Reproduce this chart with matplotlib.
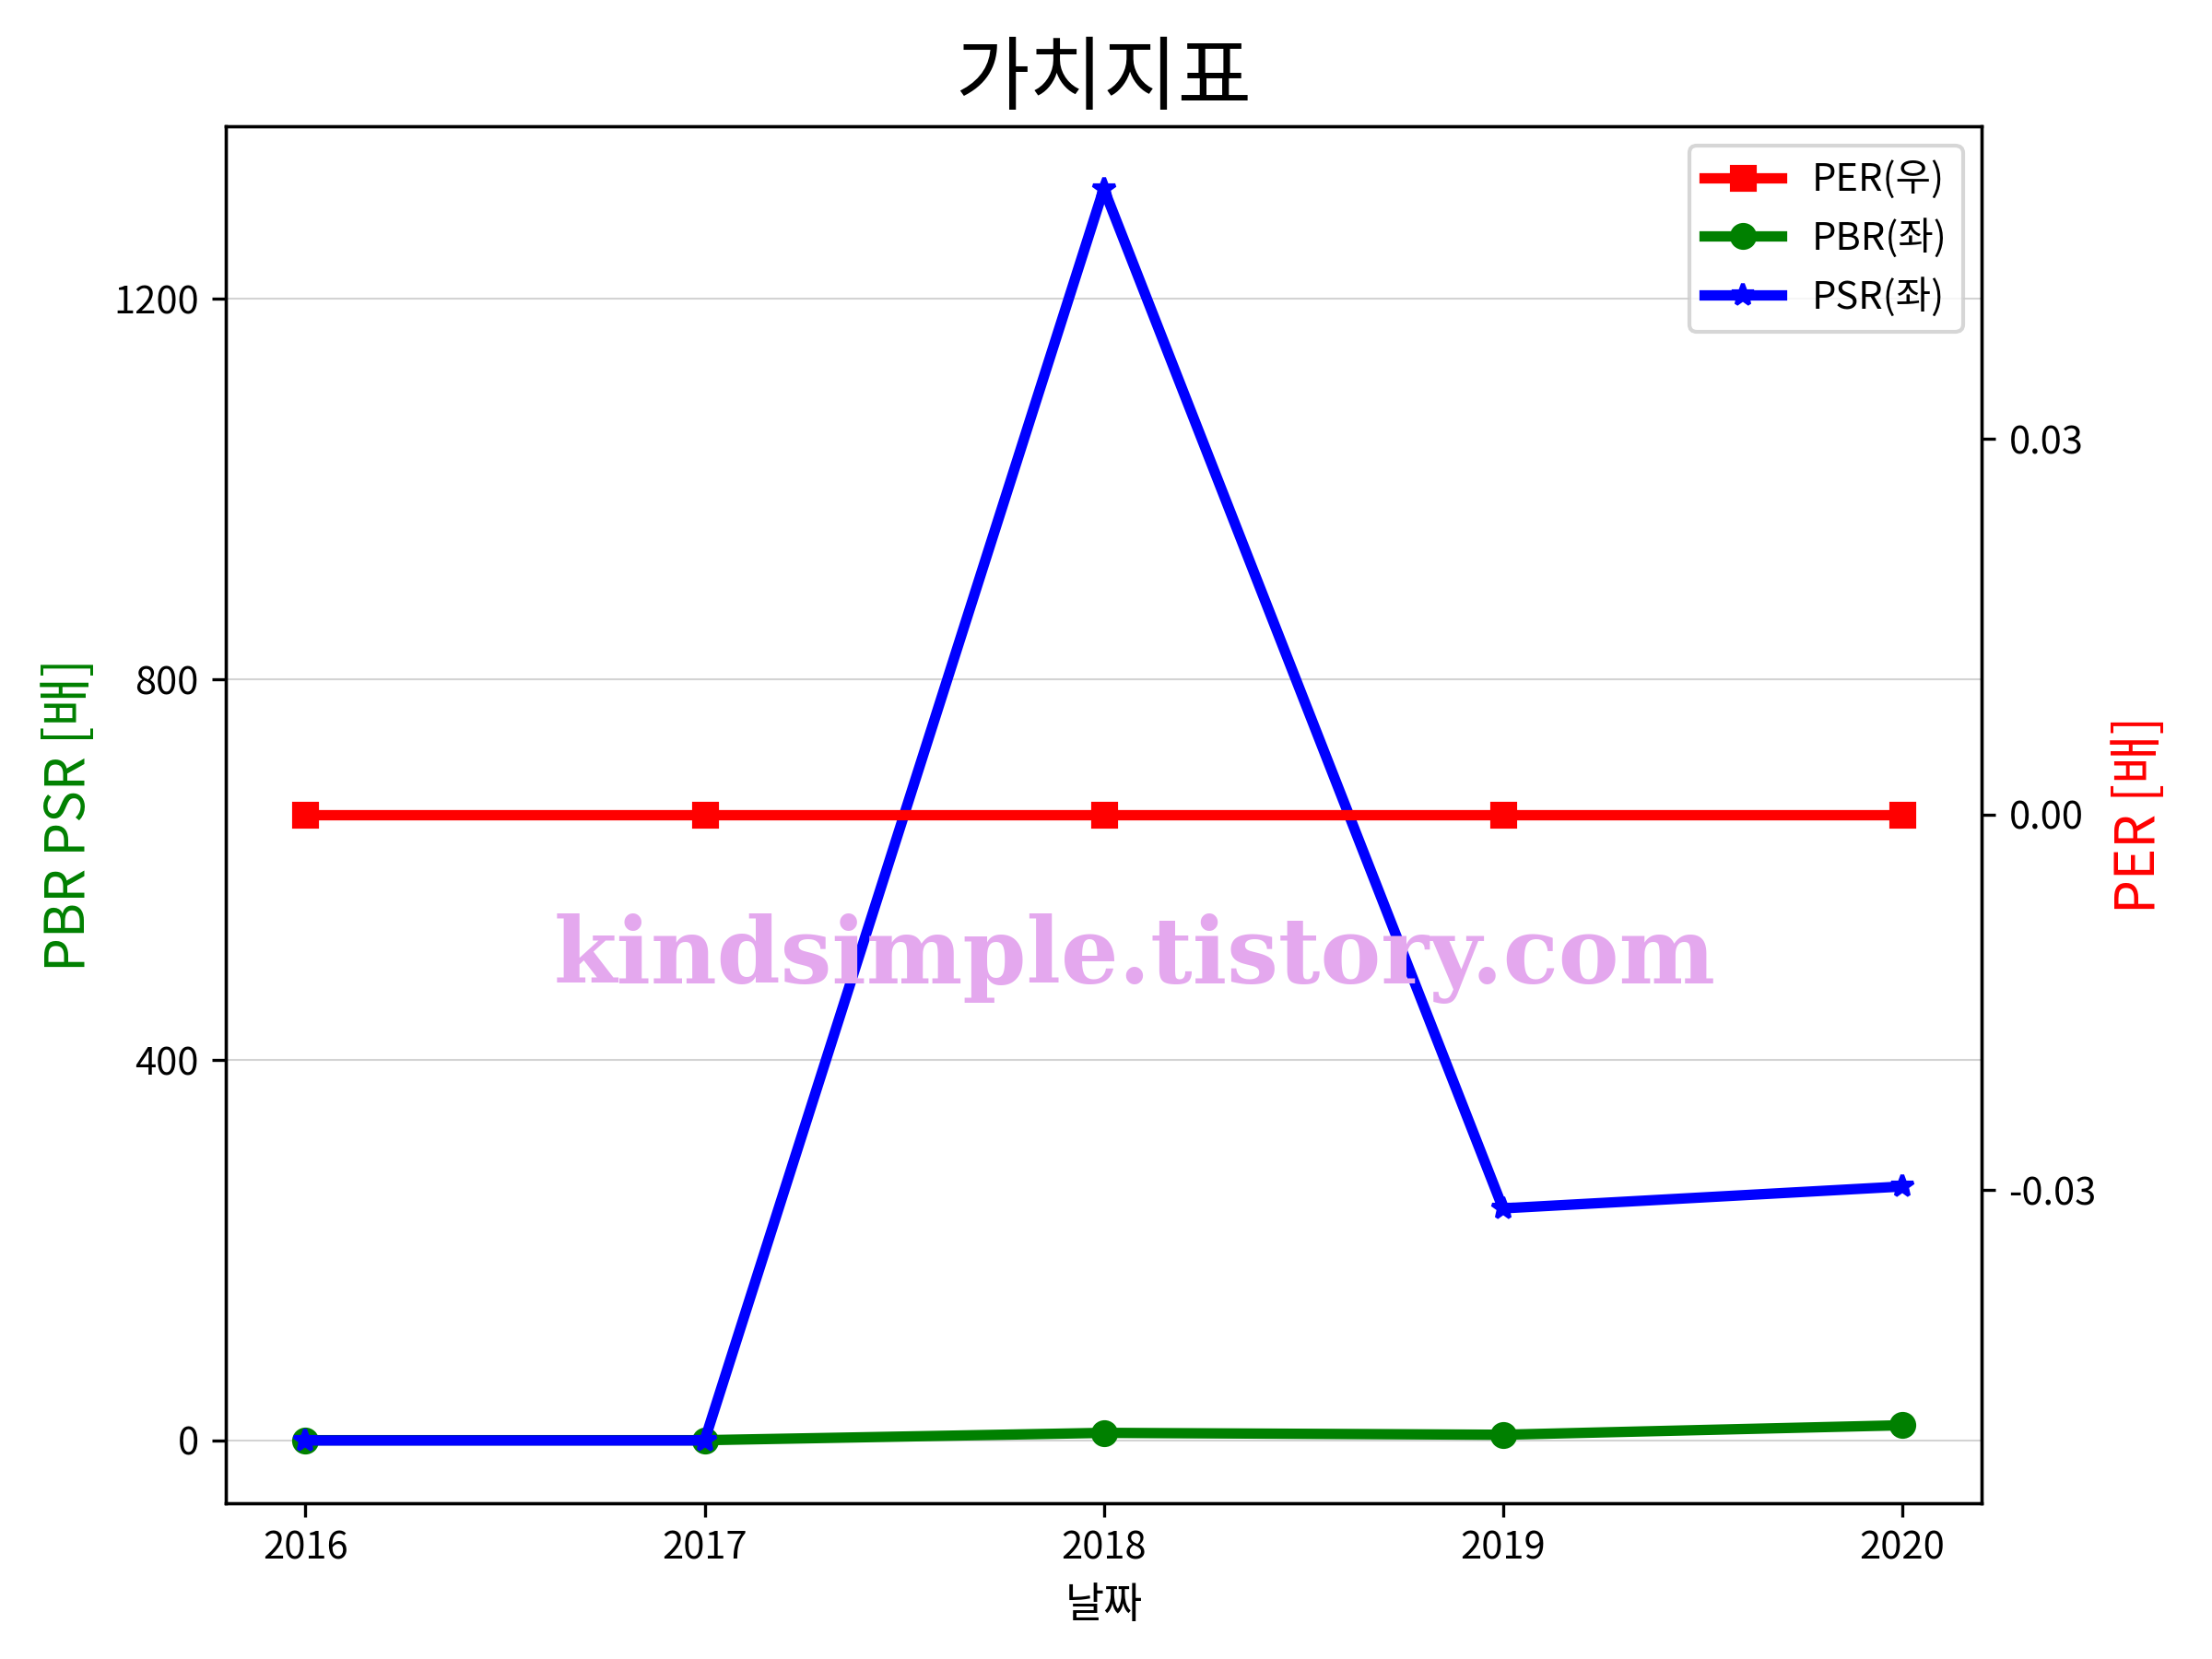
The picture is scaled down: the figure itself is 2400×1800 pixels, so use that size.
import matplotlib
matplotlib.use("Agg")
import matplotlib.pyplot as plt
import matplotlib.ticker as ticker

plt.rcParams['font.family'] = ['Noto Sans CJK KR', 'DejaVu Sans']
plt.rcParams['axes.unicode_minus'] = False

# data
years = [2016, 2017, 2018, 2019, 2020]
per = [0, 0, 0, 0, 0]
pbr = [0.3, 0.3, 8, 6, 16]
psr = [0, 0, 1316, 244, 267]

fig, ax1 = plt.subplots(figsize=(8, 6), dpi=300)
fig.subplots_adjust(left=0.102, right=0.896, bottom=0.094, top=0.924)
ax2 = ax1.twinx()

l_per, = ax2.plot(years, per, color='red', marker='s', lw=2.7, ms=6, label='PER(우)')
l_pbr, = ax1.plot(years, pbr, color='green', marker='o', lw=2.7, ms=6, label='PBR(좌)')
l_psr, = ax1.plot(years, psr, color='blue', marker='*', lw=2.7, ms=6, label='PSR(좌)')

ax1.grid(axis='y', color='lightgray', lw=0.5)
ax1.set_xticks(years)
ax1.yaxis.set_major_locator(ticker.MultipleLocator(400))
ax2.yaxis.set_major_locator(ticker.MultipleLocator(0.03))
ax2.yaxis.set_major_formatter(ticker.FormatStrFormatter('%.2f'))

ax1.set_xlabel('날짜', fontsize=11)
ax1.set_ylabel('PBR PSR [배]', color='green', fontsize=14)
ax2.set_ylabel('PER [배]', color='red', fontsize=14)
ax1.set_title('가치지표', fontsize=21)

ax2.legend(handles=[l_per, l_pbr, l_psr], loc='upper right', fontsize=10)

# watermark
fig.text(0.513, 0.422, 'kindsimple.tistory.com', fontsize=23.7, fontweight='bold',
         family='DejaVu Serif', color='#E4A8EE', ha='center', va='center', zorder=10)

plt.savefig('out.png')
